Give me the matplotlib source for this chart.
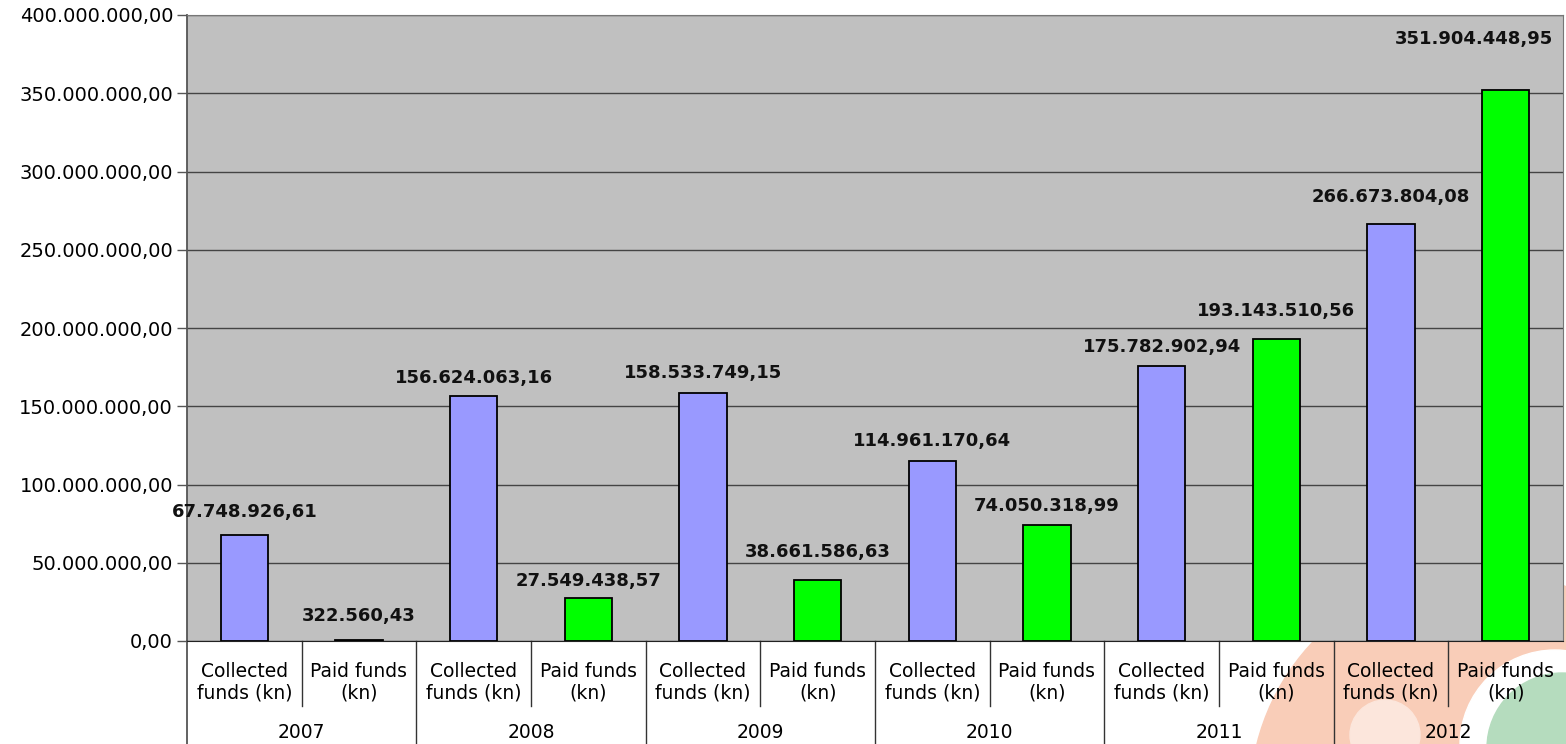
import matplotlib
matplotlib.use("Agg")
import matplotlib.pyplot as plt
import matplotlib.patches as mpatches
from matplotlib.lines import Line2D
from matplotlib.ticker import FuncFormatter

plt.rcParams["font.family"] = ["DejaVu Sans"]

YEARS = ["2007", "2008", "2009", "2010", "2011", "2012"]
SUB_LABELS = ["Collected\nfunds (kn)", "Paid funds\n(kn)"]
COLLECTED = [67748926.61, 156624063.16, 158533749.15, 114961170.64, 175782902.94, 266673804.08]
PAID = [322560.43, 27549438.57, 38661586.63, 74050318.99, 193143510.56, 351904448.95]

# label placement (pixels above bar top), as in the original chart
LABEL_DY = [23, 24, 18, 17, 20, 28, 20, 19, 19, 28, 27, 51]
LABEL_DX = [0] * 11 + [-32]

BLUE = "#9999FF"
GREEN = "#00FF00"
BG = "#C0C0C0"


def hr(v, dec=2):
    # croatian style: 1.234.567,89
    s = f"{v:,.{dec}f}"
    return s.replace(",", "X").replace(".", ",").replace("X", ".")


W, H = 1566, 744
fig = plt.figure(figsize=(W / 100, H / 100), dpi=100)


def fc(x, y):
    return (x / W, 1 - y / H)


# faint logo in the lower right corner (behind everything)
logo = [
    ((1480, 800), 460, "#F9CDB8"),
    ((1385, 735), 70, "#FCE6DC"),
    ((1555, 745), 190, "#FFFFFF"),
    ((1562, 748), 150, "#B5DCBE"),
]
for (cx, cy), d, col in logo:
    fig.patches.append(mpatches.Ellipse(fc(cx, cy), d / W, d / H, transform=fig.transFigure,
                                        color=col, zorder=-5))

ax = fig.add_axes([187 / W, 1 - 641 / H, 1376 / W, 626 / H])
ax.set_facecolor(BG)

values, colors = [], []
for c, p in zip(COLLECTED, PAID):
    values += [c, p]
    colors += [BLUE, GREEN]
x = list(range(len(values)))

ax.bar(x, values, width=0.41, color=colors, edgecolor="black", linewidth=1.3, zorder=3)
for xi, v, dy, dx in zip(x, values, LABEL_DY, LABEL_DX):
    ax.annotate(hr(v), (xi, v), xytext=(dx, dy), textcoords="offset pixels",
                ha="center", va="center", fontsize=13, fontweight="bold",
                color="#111111", zorder=4, annotation_clip=False)

ax.set_xlim(-0.5, len(values) - 0.5)
ax.set_ylim(0, 400e6)
ax.set_yticks([i * 50e6 for i in range(9)])
ax.yaxis.set_major_formatter(FuncFormatter(lambda v, _: hr(v)))
ax.tick_params(axis="y", labelsize=14, length=7, width=1, color="#555555", pad=3)
ax.grid(axis="y", color="#444444", linewidth=1, zorder=1)
ax.set_xticks([])
for side in ["top", "right"]:
    ax.spines[side].set_color("#777777")
ax.spines["left"].set_color("#555555")
ax.spines["bottom"].set_color("#222222")
ax.spines["left"].set_linewidth(1.3)

# hierarchical category axis
trans = ax.get_xaxis_transform()
short = -65 / 626
full = -103 / 626
for i, xi in enumerate(x):
    ax.text(xi, -41 / 626, SUB_LABELS[i % 2], transform=trans, ha="center", va="center",
            fontsize=13.5, linespacing=1.15, clip_on=False)
    edge = xi + 0.5
    if edge >= len(values) - 0.5:
        continue
    bottom = full if i % 2 == 1 else short
    ax.add_line(Line2D([edge, edge], [0, bottom], transform=trans, color="#333333",
                       linewidth=1, clip_on=False))
ax.add_line(Line2D([-0.5, -0.5], [0, full], transform=trans, color="#555555",
                   linewidth=1.3, clip_on=False))
for k, yr in enumerate(YEARS):
    ax.text(2 * k + 0.5, -92 / 626, yr, transform=trans, ha="center", va="center",
            fontsize=13.5, clip_on=False)

fig.savefig("out.png", dpi=100)
